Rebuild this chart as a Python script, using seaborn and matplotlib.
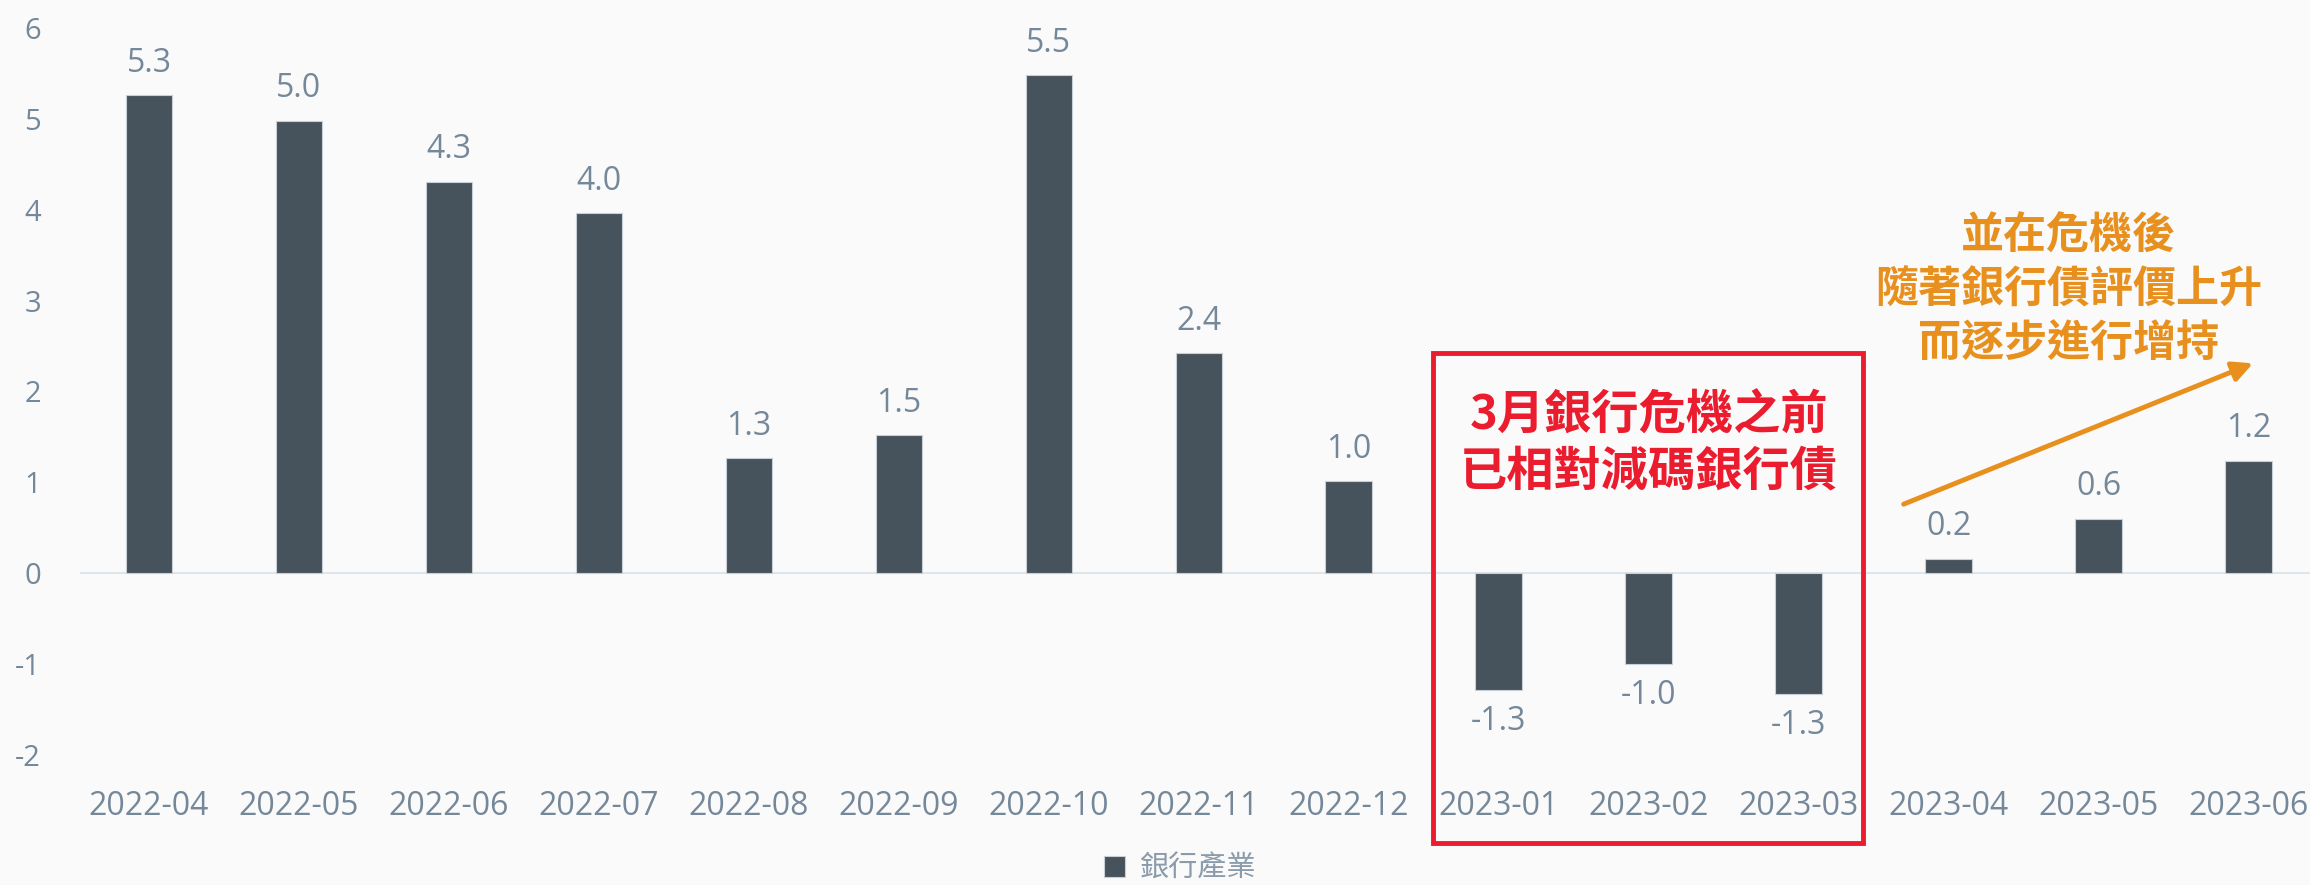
import matplotlib
matplotlib.use('Agg')
import matplotlib.pyplot as plt
import pandas as pd
import seaborn as sns
from matplotlib.patches import Rectangle

months = ['2022-04', '2022-05', '2022-06', '2022-07', '2022-08', '2022-09', '2022-10',
          '2022-11', '2022-12', '2023-01', '2023-02', '2023-03', '2023-04', '2023-05', '2023-06']
values = [5.26, 4.98, 4.31, 3.96, 1.27, 1.52, 5.48, 2.42, 1.01, -1.28, -1.0, -1.33, 0.16, 0.6, 1.24]
series_name = '銀行產業'
y_ticks = [-2, -1, 0, 1, 2, 3, 4, 5, 6]

red_note = '3月銀行危機之前\n已相對減碼銀行債'
orange_note = '並在危機後\n隨著銀行債評價上升\n而逐步進行增持'

BAR = '#44545f'
TEXT = '#74889a'
BG = '#fafafa'
RED = '#ea1c2d'
ORANGE = '#e8901e'

sns.set_theme(style='white')
plt.rcParams['font.family'] = ['Open Sans', 'Noto Sans CJK TC', 'DejaVu Sans']
plt.rcParams['axes.unicode_minus'] = False

df = pd.DataFrame({'month': months, 'value': values, 'series': series_name})

fig = plt.figure(figsize=(23.1, 8.85), dpi=100, facecolor=BG)
ax = fig.add_axes([80 / 2310, 130 / 885, 1 - 80 / 2310, (755 - 28) / 885])
ax.set_facecolor(BG)

sns.barplot(data=df, x='month', y='value', hue='series', palette=[BAR],
            width=0.31, ax=ax, edgecolor='#c8cfd5', linewidth=0.8)

ax.axhline(0, color='#dfe5ea', lw=1.5, zorder=0)
ax.set_ylim(-2, 6)
ax.set_xlim(-0.46, 14.41)
ax.set_yticks(y_ticks)
ax.set_xlabel('')
ax.set_ylabel('')
for s in ax.spines.values():
    s.set_visible(False)
ax.tick_params(axis='x', length=0, pad=25, labelsize=23, labelcolor=TEXT)
ax.tick_params(axis='y', length=0, pad=28, labelsize=21, labelcolor=TEXT)

# value labels
for c in ax.containers:
    ax.bar_label(c, labels=[f'{v:.1f}' for v in values], padding=11,
                 fontsize=23, color=TEXT)

# red box around the crisis months
box = Rectangle((8.56, -2.97), 11.43 - 8.56, 2.42 + 2.97, fill=False,
                edgecolor=RED, lw=3.5, clip_on=False, zorder=5)
ax.add_patch(box)
ax.text(10.0, 1.43, red_note, ha='center', va='center', fontsize=34,
        fontweight='bold', color=RED, linespacing=1.2,
        family=['Noto Sans CJK TC', 'DejaVu Sans'])

# orange note and arrow
ax.text(12.8, 3.12, orange_note, ha='center', va='center', fontsize=31,
        fontweight='bold', color=ORANGE, linespacing=1.28,
        family=['Noto Sans CJK TC', 'DejaVu Sans'])
ax.annotate('', xy=(14.03, 2.31), xytext=(11.7, 0.76),
            arrowprops=dict(arrowstyle='-|>', color=ORANGE, lw=3.5,
                            mutation_scale=30, shrinkA=0, shrinkB=0))

sns.move_legend(ax, 'center', bbox_to_anchor=(1180 / 2310, 16 / 885),
                bbox_transform=fig.transFigure, frameon=False, title=None,
                fontsize=21, handlelength=0.7, handleheight=0.7, handletextpad=0.5,
                labelcolor='#8a9bab')

fig.savefig('out.png', dpi=100, facecolor=BG)
